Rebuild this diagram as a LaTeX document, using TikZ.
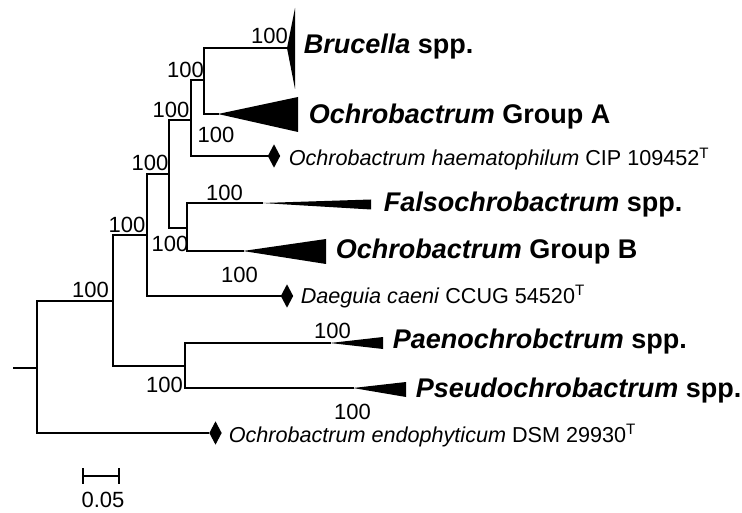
\documentclass[tikz,border=0pt]{standalone}
\usepackage{fontspec}
\setmainfont{Liberation Sans}
\usetikzlibrary{shapes.geometric}
\begin{document}
\begin{tikzpicture}[x=1pt, y=-1pt, line width=1.6pt, line cap=rect, line join=miter,
	boot/.style={font=\fontsize{22}{22}\selectfont, inner sep=0pt},
	clade/.style={font=\fontsize{27}{27}\selectfont\bfseries, anchor=base west, inner sep=0pt},
	strain/.style={font=\fontsize{21.6}{21.6}\selectfont, anchor=base west, inner sep=0pt},
	tipmark/.style={diamond, fill, draw=none, inner sep=0pt, minimum width=13pt, minimum height=24pt}]
	\useasboundingbox (0,0) rectangle (742,513);
	% internal nodes
	\coordinate (stub) at (14,368);
	\coordinate (root) at (37,368);
	\coordinate (nA) at (113,301);
	\coordinate (nB) at (147,235);
	\coordinate (nC) at (169,174);
	\coordinate (nE) at (191,120);
	\coordinate (nG) at (204,80);
	\coordinate (nF) at (187,228);
	\coordinate (nPP) at (185,366);
	% tips
	\coordinate (tBru) at (287,48);
	\coordinate (tGrA) at (218,114);
	\coordinate (tFal) at (262,203);
	\coordinate (tGrB) at (243,251);
	\coordinate (tPae) at (330,343);
	\coordinate (tPse) at (353,388);
	\node[tipmark] (dHae) at (274,156) {};
	\node[tipmark] (dDae) at (287,296) {};
	\node[tipmark] (dEnd) at (215.5,433) {};
	% branches
	\draw (stub) -- (root);
	\draw (root) |- (nA);
	\draw (root) |- (dEnd.west);
	\draw (nA) |- (nB);
	\draw (nA) |- (nPP);
	\draw (nB) |- (nC);
	\draw (nB) |- (dDae.west);
	\draw (nC) |- (nE);
	\draw (nC) |- (nF);
	\draw (nE) |- (nG);
	\draw (nE) |- (dHae.west);
	\draw (nG) |- (tBru);
	\draw (nG) |- (tGrA);
	\draw (nF) |- (tFal);
	\draw (nF) |- (tGrB);
	\draw (nPP) |- (tPae);
	\draw (nPP) |- (tPse);
	% collapsed clades
	\fill (tBru) -- ++(8,-40) -- ++(0,81) -- cycle;
	\fill (tGrA) -- ++(80,-17) -- ++(0,35) -- cycle;
	\fill (tFal) -- ++(109,-3.5) -- ++(0,10) -- cycle;
	\fill (tGrB) -- ++(83,-12) -- ++(0,25) -- cycle;
	\fill (tPae) -- ++(53,-6) -- ++(0,12) -- cycle;
	\fill (tPse) -- ++(53,-6) -- ++(0,15) -- cycle;
	% tip labels
	\node[clade] (lBru) at (303,54) {\textit{Brucella} spp.};
	\node[clade] (lGrA) at (308,124) {\textit{Ochrobactrum} Group A};
	\node[strain] (lHae) at (288,166) {\textit{Ochrobactrum haematophilum} CIP 109452\textsuperscript{T}};
	\node[clade] (lFal) at (383,212) {\textit{Falsochrobactrum} spp.};
	\node[clade] (lGrB) at (335,259) {\textit{Ochrobactrum} Group B};
	\node[strain] (lDae) at (300,303) {\textit{Daeguia caeni} CCUG 54520\textsuperscript{T}};
	\node[clade] (lPae) at (392,348) {\textit{Paenochrobctrum} spp.};
	\node[clade] (lPse) at (415,397) {\textit{Pseudochrobactrum} spp.};
	\node[strain] (lEnd) at (228,442) {\textit{Ochrobactrum endophyticum} DSM 29930\textsuperscript{T}};
	% bootstrap values
	\node[boot] (bBru) at (269.5,36) {100};
	\node[boot] (bG) at (185.5,70) {100};
	\node[boot] (bE) at (171,110) {100};
	\node[boot] (bGrA) at (216,135) {100};
	\node[boot] (bC) at (150,163) {100};
	\node[boot] (bB) at (127,225) {100};
	\node[boot] (bFal) at (224.5,193) {100};
	\node[boot] (bF) at (170,244) {100};
	\node[boot] (bGrB) at (239.5,275) {100};
	\node[boot] (bA) at (90.5,290) {100};
	\node[boot] (bPae) at (332.5,331) {100};
	\node[boot] (bPP) at (164.5,385) {100};
	\node[boot] (bPse) at (352.5,412) {100};
	% scale bar
	\coordinate (sbL) at (83,476);
	\coordinate (sbR) at (119,476);
	\draw[line width=1.4pt, line cap=butt] (sbL) -- (sbR);
	\draw[line width=1.4pt, line cap=butt] ([yshift=8pt]sbL) -- ([yshift=-8pt]sbL);
	\draw[line width=1.4pt, line cap=butt] ([yshift=8pt]sbR) -- ([yshift=-8pt]sbR);
	\node[boot] (lScale) at (103,500) {0.05};
\end{tikzpicture}
\end{document}
